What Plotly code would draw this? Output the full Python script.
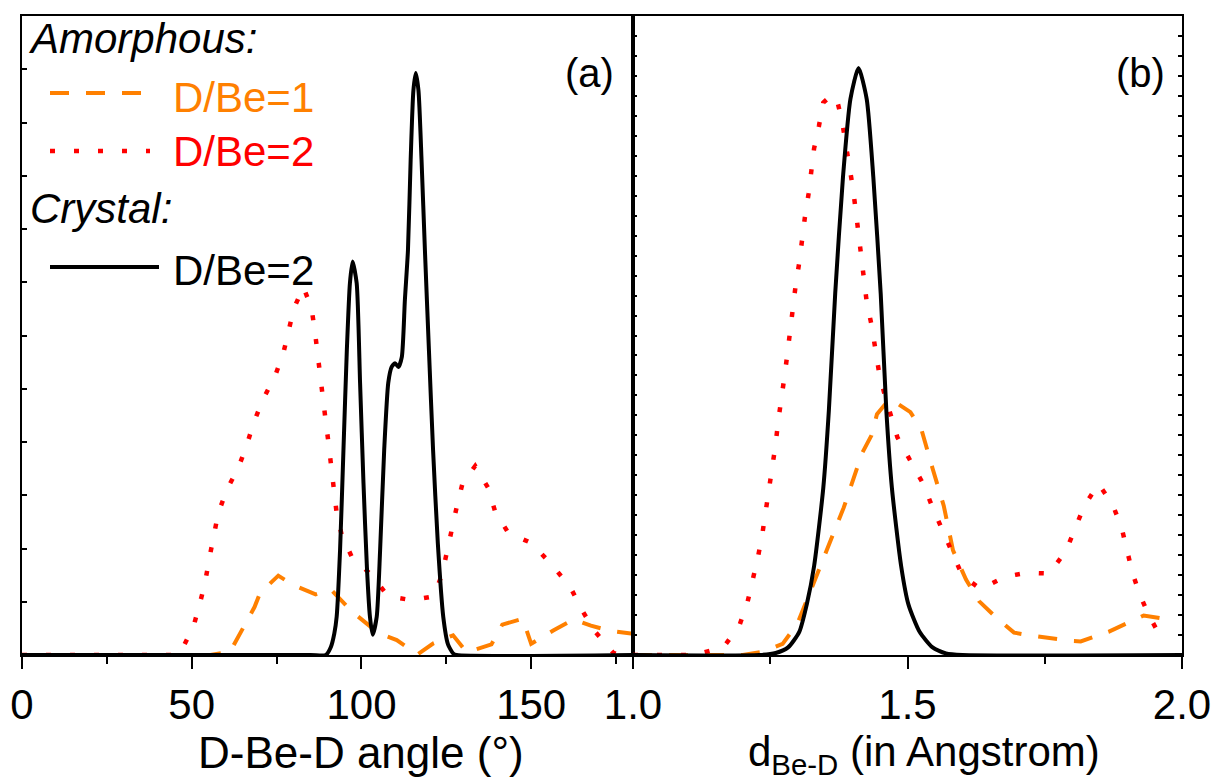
import plotly.graph_objects as go

# ---------------- data: panel (a) D-Be-D angle distribution ----------------
angle_cryst = [0, 85, 89.5, 91, 92, 92.7, 93.7, 94.7, 95.7, 96.6, 97.4, 98.6, 99.6, 100.6,
               101.6, 102.5, 103.3, 104.5, 105.5, 106.7, 107.9, 108.9, 109.9, 110.9, 111.9,
               112.8, 113.7, 114.5, 115.3, 116.0, 116.8, 117.7, 118.7, 119.9, 121.1, 122.5,
               124.1, 125.5, 127, 128, 180]
g_cryst = [0, 0, 0, 0.015, 0.04, 0.072, 0.197, 0.385, 0.573, 0.698, 0.739, 0.698, 0.51, 0.323,
           0.166, 0.072, 0.038, 0.072, 0.197, 0.385, 0.511, 0.541, 0.548, 0.541, 0.56,
           0.667, 0.76, 0.93, 1.06, 1.093, 1.06, 0.93, 0.76, 0.57, 0.385, 0.21,
           0.072, 0.02, 0.003, 0, 0]

angle_am2 = [0, 45, 47, 50.5, 52.4, 53.9, 55.2, 56.4, 57.8, 60.3, 63.7, 66.2, 68.2, 70.9, 74.5,
             77, 78.5, 80.1, 82.9, 85.3, 86.3, 87, 87.8, 88.8, 89.5, 90.3, 91, 91.7, 92.7, 94.2,
             97.1, 103, 107.9, 114.8, 121.2, 123.7, 125.1, 126.6, 128.1, 129.8, 133.5, 137.4,
             139.4, 143.3, 150.2, 156.1, 161.5, 164.9, 168.8, 174.2, 176, 180]
g_am2 = [0, 0, 0.009, 0.053, 0.097, 0.135, 0.182, 0.222, 0.266, 0.31, 0.351, 0.394, 0.435, 0.479, 0.523,
         0.567, 0.607, 0.651, 0.691, 0.651, 0.607, 0.567, 0.523, 0.482, 0.438, 0.398, 0.354, 0.31, 0.266, 0.225,
         0.185, 0.15, 0.11, 0.103, 0.11, 0.15, 0.194, 0.238, 0.279, 0.323, 0.355, 0.313,
         0.269, 0.229, 0.21, 0.169, 0.128, 0.085, 0.044, 0.004, 0, 0]

angle_am1 = [0, 55.5, 61.3, 64.7, 68.5, 70.1, 75.5, 80, 86.5, 91, 97.5, 105, 110.4, 116.5,
             121.2, 127, 131, 138.3, 141.5, 147.5, 150, 156.5, 162.5, 167.6, 173.5, 180]
g_am1 = [0, 0, 0.006, 0.044, 0.09, 0.116, 0.149, 0.131, 0.114, 0.123, 0.08, 0.041, 0.028, 0.001,
         0.022, 0.037, 0.005, 0.02, 0.057, 0.068, 0.021, 0.046, 0.067, 0.055, 0.045, 0.04]

# ---------------- data: panel (b) Be-D distance distribution ----------------
d_cryst = [1.0, 1.23, 1.26, 1.2825, 1.3029, 1.3164, 1.3299, 1.3466, 1.3568, 1.3683, 1.3825, 1.396,
           1.4108, 1.4257, 1.4377, 1.4512, 1.4614, 1.4716, 1.4884, 1.5018, 1.522, 1.5457, 1.57, 1.6, 2.0]
p_cryst = [0, 0, 0.005, 0.019, 0.058, 0.126, 0.223, 0.418, 0.613, 0.905, 1.197, 1.392,
           1.47, 1.392, 1.197, 0.905, 0.613, 0.418, 0.223, 0.126, 0.058, 0.019, 0.004, 0, 0]

d_am2 = [1.0, 1.11, 1.1645, 1.1936, 1.2084, 1.2186, 1.2273, 1.2354, 1.2421, 1.2476, 1.2536, 1.2597,
         1.2643, 1.2712, 1.2758, 1.2812, 1.286, 1.2907, 1.2962, 1.3029, 1.3076, 1.313, 1.3197, 1.3245,
         1.3298, 1.3386, 1.3466, 1.36, 1.3703, 1.3805, 1.394, 1.4007, 1.406, 1.4107, 1.4155, 1.421,
         1.4257, 1.4344, 1.4412, 1.4479, 1.4579, 1.4816, 1.5053, 1.5288, 1.5457, 1.5627, 1.5794,
         1.5997, 1.6333, 1.6772, 1.7177, 1.7583, 1.7885, 1.8055, 1.8222, 1.8479, 1.8729, 1.8898,
         1.8998, 1.91, 1.9235, 1.9404, 1.965, 1.97]
p_am2 = [0, 0, 0.019, 0.073, 0.131, 0.189, 0.243, 0.301, 0.36, 0.413, 0.472, 0.527,
         0.584, 0.642, 0.696, 0.754, 0.813, 0.869, 0.925, 0.983, 1.04, 1.095, 1.154, 1.207,
         1.268, 1.324, 1.383, 1.40, 1.397, 1.339, 1.227, 1.168, 1.11, 1.052, 0.998, 0.939,
         0.884, 0.827, 0.769, 0.71, 0.654, 0.545, 0.486, 0.428, 0.369, 0.316, 0.257,
         0.199, 0.165, 0.196, 0.206, 0.204, 0.26, 0.316, 0.374, 0.428, 0.379, 0.32,
         0.262, 0.204, 0.15, 0.097, 0.036, 0.03]

d_am1 = [1.0, 1.2, 1.236, 1.2725, 1.2994, 1.35, 1.3838, 1.4175, 1.4344, 1.4444, 1.468, 1.5053,
         1.5255, 1.5457, 1.566, 1.5829, 1.6066, 1.6302, 1.659, 1.694, 1.7279, 1.8, 1.8155,
         1.8661, 1.9302, 1.97]
p_am1 = [0, 0, 0.008, 0.028, 0.078, 0.253, 0.369, 0.506, 0.55, 0.603, 0.642, 0.608,
         0.564, 0.467, 0.374, 0.262, 0.189, 0.135, 0.097, 0.056, 0.048, 0.035, 0.034,
         0.058, 0.099, 0.09]

# ---------------- text ----------------
legend_head1 = "Amorphous:"
legend_head2 = "Crystal:"
legend_names = ["D/Be=1", "D/Be=2", "D/Be=2"]
xtitle_a = "D-Be-D angle (°)"
xtitle_b = "d<sub>Be-D</sub> (in Angstrom)"

ORANGE = "#FF8000"
RED = "#FF0000"
BLACK = "#000000"
FONT = "Liberation Sans, Arial, sans-serif"

W, H = 1220, 780
def px(x):
    return x / W
def py(y):
    return 1 - y / H

fig = go.Figure()
dash_orange = "19px,17px"
dot_red = "5px,19px"

fig.add_trace(go.Scatter(x=angle_am1, y=g_am1, mode="lines", xaxis="x", yaxis="y",
                         line=dict(color=ORANGE, width=4, dash=dash_orange)))
fig.add_trace(go.Scatter(x=angle_am2, y=g_am2, mode="lines", xaxis="x", yaxis="y",
                         line=dict(color=RED, width=4.5, dash=dot_red)))
fig.add_trace(go.Scatter(x=angle_cryst, y=g_cryst, mode="lines", xaxis="x", yaxis="y",
                         line=dict(color=BLACK, width=4, shape="spline", smoothing=0.6)))

fig.add_trace(go.Scatter(x=d_am1, y=p_am1, mode="lines", xaxis="x2", yaxis="y2",
                         line=dict(color=ORANGE, width=4, dash=dash_orange)))
fig.add_trace(go.Scatter(x=d_am2, y=p_am2, mode="lines", xaxis="x2", yaxis="y2",
                         line=dict(color=RED, width=4.5, dash=dot_red)))
fig.add_trace(go.Scatter(x=d_cryst, y=p_cryst, mode="lines", xaxis="x2", yaxis="y2",
                         line=dict(color=BLACK, width=4, shape="spline", smoothing=0.6)))

ydom = [1 - 655 / H, 1 - 16 / H]
axis_common = dict(showgrid=False, zeroline=False, showline=True, linecolor=BLACK,
                   linewidth=2, automargin=False)

fig.update_layout(
    width=W, height=H,
    margin=dict(l=0, r=0, t=0, b=0),
    paper_bgcolor="white", plot_bgcolor="white",
    showlegend=False,
    font=dict(family=FONT, color=BLACK),
    xaxis=dict(domain=[px(22), px(633)], range=[0, 180], anchor="y",
               tick0=0, dtick=50, ticks="outside", ticklen=12, tickwidth=2, tickcolor=BLACK,
               mirror=True, tickfont=dict(size=42, family=FONT, color=BLACK),
               minor=dict(tick0=0, dtick=25, ticks="outside", ticklen=7, tickwidth=2, tickcolor=BLACK),
               **axis_common),
    xaxis2=dict(domain=[px(633), px(1182)], range=[1.0, 2.0], anchor="y2",
                tick0=1.0, dtick=0.5, tickformat=".1f", ticks="outside", ticklen=12, tickwidth=2,
                tickcolor=BLACK, mirror=True, tickfont=dict(size=42, family=FONT, color=BLACK),
                minor=dict(tick0=1.0, dtick=0.25, ticks="outside", ticklen=7, tickwidth=2, tickcolor=BLACK),
                **axis_common),
    yaxis=dict(domain=ydom, range=[0, 1.2], anchor="x", dtick=0.1, ticks="inside", ticklen=5,
               tickwidth=1.5, tickcolor=BLACK, showticklabels=False, mirror=True, **axis_common),
    yaxis2=dict(domain=ydom, range=[0, 1.6], anchor="x2", dtick=0.05, ticks="inside", ticklen=4,
                tickwidth=1.5, tickcolor=BLACK, showticklabels=False, mirror="ticks", **axis_common),
)

# legend built from text + sample lines
ann = []
def add_text(text, x, y, size, color=BLACK, xanchor="left"):
    ann.append(dict(text=text, x=px(x), y=py(y), xref="paper", yref="paper", showarrow=False,
                    xanchor=xanchor, yanchor="middle", font=dict(size=size, color=color, family=FONT)))

add_text("<i>" + legend_head1 + "</i>", 26, 38, 42)
add_text(legend_names[0], 171, 97, 42, ORANGE)
add_text(legend_names[1], 171, 152, 42, RED)
add_text("<i>" + legend_head2 + "</i>", 28, 209, 42)
add_text(legend_names[2], 171, 270, 42, BLACK)
add_text("(a)", 616, 73, 40, xanchor="right")
add_text("(b)", 1167, 73, 40, xanchor="right")
add_text(xtitle_a, 361, 752, 44, xanchor="center")
add_text(xtitle_b, 924, 754, 42, xanchor="center")
fig.update_layout(annotations=ann)

shapes = [
    dict(type="line", xref="paper", yref="paper", x0=px(50), x1=px(146), y0=py(93), y1=py(93),
         line=dict(color=ORANGE, width=4, dash=dash_orange)),
    dict(type="line", xref="paper", yref="paper", x0=px(50), x1=px(150), y0=py(151), y1=py(151),
         line=dict(color=RED, width=4.5, dash=dot_red)),
    dict(type="line", xref="paper", yref="paper", x0=px(50), x1=px(159), y0=py(267), y1=py(267),
         line=dict(color=BLACK, width=4)),
]
fig.update_layout(shapes=shapes)

fig.write_html("out.html")
